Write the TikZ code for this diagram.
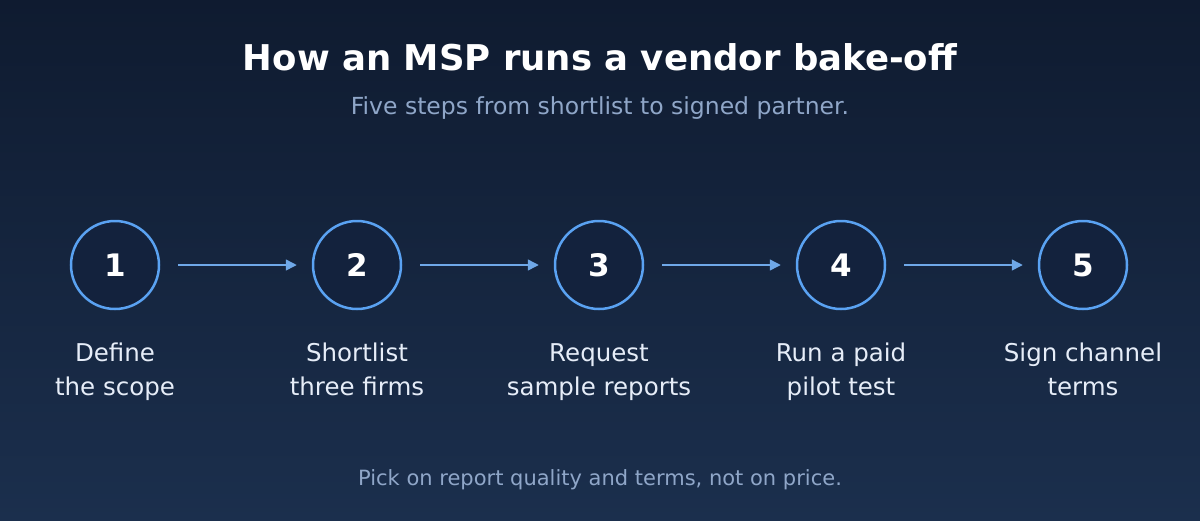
\documentclass[tikz,border=0pt]{standalone}
\usepackage{fontspec}
\setmainfont{DejaVu Sans}
\usetikzlibrary{arrows.meta}
\definecolor{bgtop}{HTML}{0F1B30}
\definecolor{bgbot}{HTML}{1B2F4D}
\definecolor{ring}{HTML}{5AA2F2}
\definecolor{cfill}{HTML}{13223D}
\definecolor{sub}{HTML}{8FA6C8}
\definecolor{lab}{HTML}{E6EDF8}
\definecolor{arr}{HTML}{6FA8E8}
\begin{document}
\begin{tikzpicture}[x=1pt,y=-1pt,
  stepnode/.style={circle,draw=ring,line width=2.5pt,fill=cfill,minimum size=88pt,inner sep=0pt,text=white,font=\fontsize{31}{31}\selectfont\bfseries},
  lbl/.style={align=center,text=lab,font=\fontsize{24.5}{34}\selectfont},
  conn/.style={draw=arr,line width=1.5pt,-{Triangle[length=11pt,width=11pt]}}]
\shade[top color=bgtop,bottom color=bgbot] (0,0) rectangle (1200,520);
\useasboundingbox (0,0) rectangle (1200,520);
\node[text=white,font=\fontsize{35.5}{36}\selectfont\bfseries] (title) at (600,57) {How an MSP runs a vendor bake-off};
\node[text=sub,font=\fontsize{23.5}{24}\selectfont] (subtitle) at (600,108) {Five steps from shortlist to signed partner.};
\foreach \i/\x/\t in {1/115/{\strut Define\\\strut the scope},2/357/{\strut Shortlist\\\strut three firms},3/599/{\strut Request\\\strut sample reports},4/841/{\strut Run a paid\\\strut pilot test},5/1083/{\strut Sign channel\\\strut terms}}{
  \node[stepnode] (s\i) at (\x,265) {\i};
  \node[lbl] (l\i) at (\x,372) {\t};
}
\foreach \a/\b in {1/2,2/3,3/4,4/5}{
  \draw[conn] ([xshift=18pt]s\a.east) -- ([xshift=-15pt]s\b.west);
}
\node[text=sub,font=\fontsize{21}{22}\selectfont] (foot) at (600,480) {Pick on report quality and terms, not on price.};
\end{tikzpicture}
\end{document}
